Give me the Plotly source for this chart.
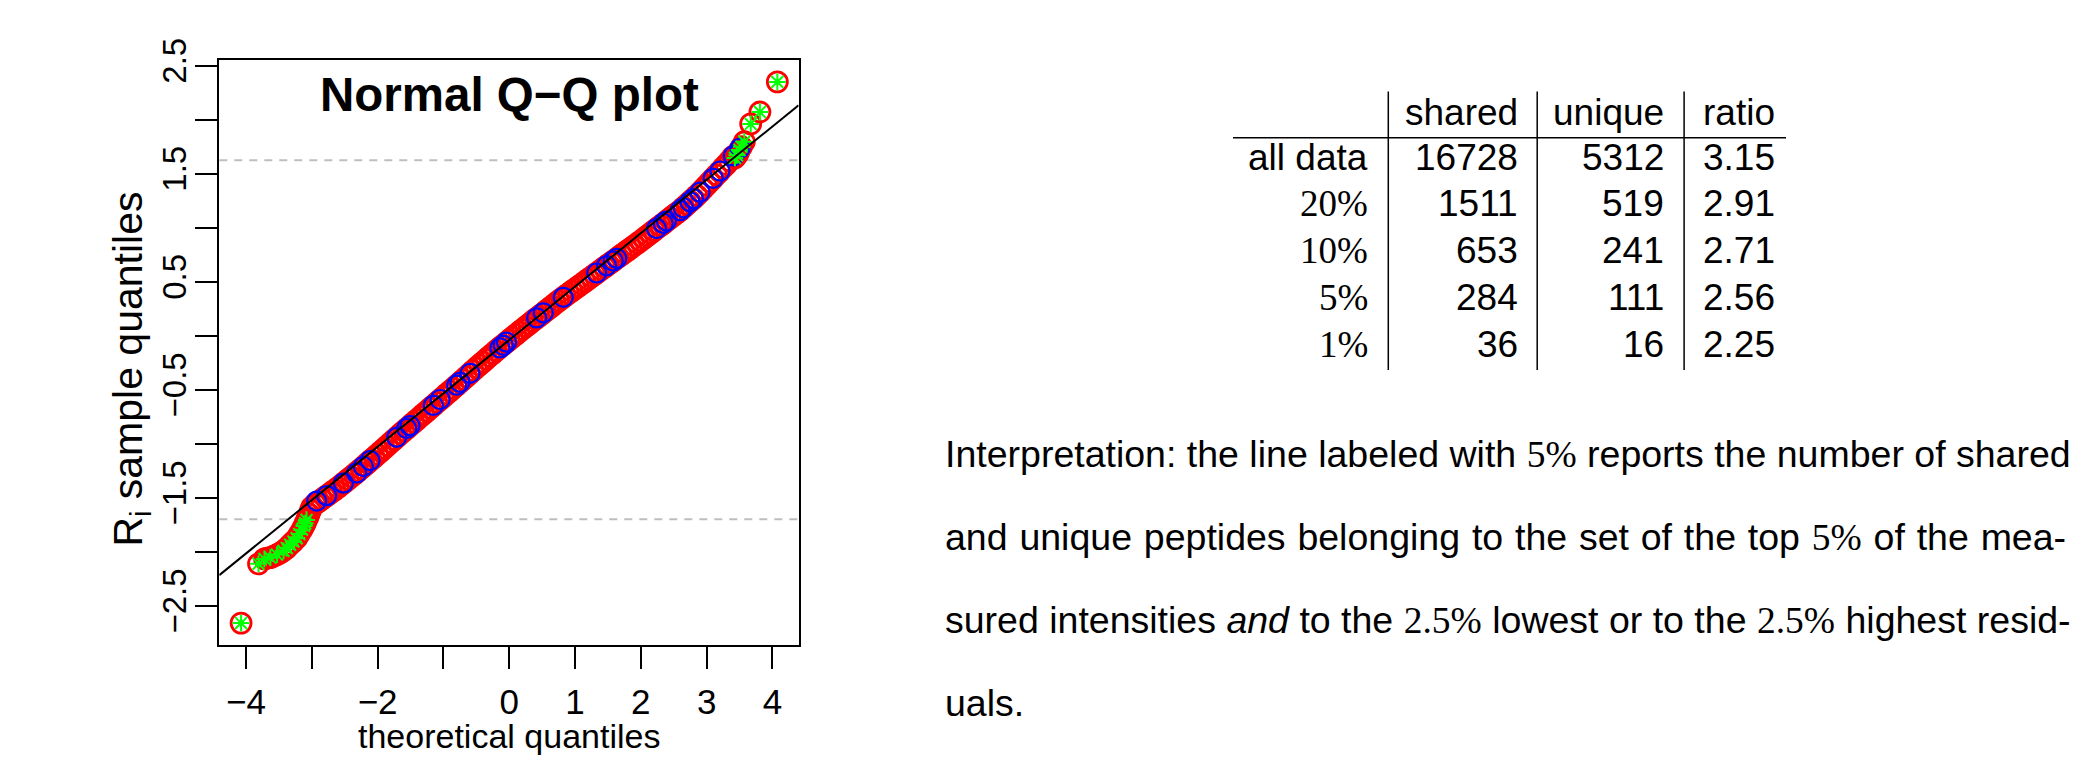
import plotly.graph_objects as go

# ---------------- data ----------------
# Q-Q plot: theoretical quantiles vs. sample quantiles of R_i (red = shared, sampled along the curve)
red_theoretical = [-4.075, -3.81, -3.72, -3.68, -3.63, -3.58, -3.53, -3.48, -3.43, -3.38, -3.33, -3.28,
                   -3.23, -3.19, -3.15, -3.12, -3.10, -3.08, -3.06, -3.04, -3.02, -3.00,
                   -2.95, -2.90, -2.85, -2.80, -2.75, -2.70, -2.65, -2.60, -2.55, -2.50,
                   -2.45, -2.40, -2.35, -2.30, -2.25, -2.20, -2.15, -2.10, -2.05, -2.00,
                   -1.95, -1.90, -1.85, -1.80, -1.75, -1.70, -1.65, -1.60, -1.55, -1.50,
                   -1.45, -1.40, -1.35, -1.30, -1.25, -1.20, -1.15, -1.10, -1.05, -1.00,
                   -0.95, -0.90, -0.85, -0.80, -0.75, -0.70, -0.65, -0.60, -0.55, -0.50,
                   -0.45, -0.40, -0.35, -0.30, -0.25, -0.20, -0.15, -0.10, -0.05, 0.00,
                   0.05, 0.10, 0.15, 0.20, 0.25, 0.30, 0.35, 0.40, 0.45, 0.50,
                   0.55, 0.60, 0.65, 0.70, 0.75, 0.80, 0.85, 0.90, 0.95, 1.00,
                   1.05, 1.10, 1.15, 1.20, 1.25, 1.30, 1.35, 1.40, 1.45, 1.50,
                   1.55, 1.60, 1.65, 1.70, 1.75, 1.80, 1.85, 1.90, 1.95, 2.00,
                   2.05, 2.10, 2.15, 2.20, 2.25, 2.30, 2.35, 2.40, 2.45, 2.50,
                   2.55, 2.60, 2.65, 2.70, 2.75, 2.80, 2.85, 2.90, 2.95, 3.00,
                   3.05, 3.10, 3.15, 3.20, 3.25, 3.30, 3.35, 3.40,
                   3.43, 3.46, 3.48, 3.50, 3.53, 3.573, 3.67, 3.81, 4.075]
red_sample = [-2.659, -2.111, -2.065, -2.058, -2.054, -2.040, -2.025, -2.009, -1.990, -1.965, -1.934, -1.905,
              -1.874, -1.835, -1.795, -1.760, -1.735, -1.705, -1.680, -1.650, -1.615, -1.585,
              -1.556, -1.537, -1.515, -1.492, -1.470, -1.448, -1.426, -1.403, -1.379, -1.354,
              -1.329, -1.305, -1.280, -1.255, -1.229, -1.203, -1.176, -1.149, -1.124, -1.097,
              -1.070, -1.043, -1.016, -0.988, -0.961, -0.934, -0.907, -0.881, -0.855, -0.828,
              -0.802, -0.776, -0.749, -0.723, -0.697, -0.670, -0.644, -0.617, -0.591, -0.565,
              -0.538, -0.512, -0.486, -0.459, -0.432, -0.405, -0.378, -0.350, -0.323, -0.296,
              -0.269, -0.244, -0.217, -0.190, -0.165, -0.138, -0.113, -0.088, -0.064, -0.039,
              -0.014, 0.010, 0.035, 0.060, 0.084, 0.107, 0.132, 0.156, 0.179, 0.203,
              0.227, 0.250, 0.274, 0.299, 0.323, 0.346, 0.368, 0.391, 0.413, 0.435,
              0.457, 0.479, 0.501, 0.524, 0.546, 0.568, 0.590, 0.613, 0.635, 0.657,
              0.679, 0.701, 0.724, 0.746, 0.768, 0.790, 0.812, 0.835, 0.857, 0.879,
              0.903, 0.926, 0.949, 0.973, 0.997, 1.020, 1.043, 1.067, 1.090, 1.114,
              1.137, 1.160, 1.188, 1.215, 1.243, 1.269, 1.299, 1.329, 1.361, 1.393,
              1.426, 1.457, 1.490, 1.522, 1.555, 1.586, 1.621, 1.661,
              1.646, 1.670, 1.690, 1.720, 1.750, 1.796, 1.961, 2.071, 2.350]

# blue = unique peptides (visible rings)
blue_theoretical = [-2.926, -2.774, -2.52, -2.318, -2.217, -2.115, -1.71, -1.558, -1.508, -1.153, -1.05,
                    -0.798, -0.748, -0.596, -0.14, -0.09, -0.04, 0.418, 0.518, 0.822, 1.33, 1.48,
                    1.58, 1.634, 2.24, 2.34, 2.39, 2.596, 2.646, 2.748, 2.80, 2.90, 3.10, 3.204,
                    3.406, 3.508]
blue_sample = [-1.53, -1.48, -1.364, -1.27, -1.21, -1.155, -0.94, -0.858, -0.832, -0.645, -0.59,
               -0.458, -0.431, -0.348, -0.113, -0.088, -0.059, 0.165, 0.212, 0.356, 0.581, 0.648,
               0.692, 0.716, 0.992, 1.04, 1.062, 1.158, 1.185, 1.240, 1.269, 1.329, 1.457, 1.525,
               1.665, 1.735]

# green stars = top 5% intensities beyond the residual thresholds
green_theoretical = [-4.075, -3.81, -3.72, -3.63, -3.53, -3.43, -3.38, -3.33, -3.28, -3.23, -3.19,
                     -3.15, -3.12, -3.10, -3.08, 3.43, 3.46, 3.50, 3.53, 3.573, 3.67, 3.81, 4.075]
green_sample = [-2.659, -2.111, -2.065, -2.054, -2.025, -1.990, -1.965, -1.934, -1.905, -1.874, -1.835,
                -1.795, -1.760, -1.735, -1.705, 1.646, 1.670, 1.720, 1.750, 1.796, 1.961, 2.071, 2.350]

qq_intercept = -0.039
qq_slope = 0.494
resid_low = -1.697
resid_high = 1.625

x_range = [-4.406, 4.398]
y_range = [-2.858, 2.551]
x_tick_vals = [-4, -2, 0, 1, 2, 3, 4]
x_tick_text = ["\u22124", "\u22122", "0", "1", "2", "3", "4"]
x_minor_vals = [-3, -1]
y_tick_vals = [-2.5, -1.5, -0.5, 0.5, 1.5, 2.5]
y_tick_text = ["\u22122.5", "\u22121.5", "\u22120.5", "0.5", "1.5", "2.5"]
y_minor_vals = [-2.0, -1.0, 0.0, 1.0, 2.0]

# table
table_rows = ["all data", "20%", "10%", "5%", "1%"]
table_cols = ["shared", "unique", "ratio"]
shared_counts = [16728, 1511, 653, 284, 36]
unique_counts = [5312, 519, 241, 111, 16]
ratios = [3.15, 2.91, 2.71, 2.56, 2.25]

# ---------------- figure ----------------
W, H = 2077, 757
SANS = "Liberation Sans, Arial, Helvetica, sans-serif"
SERIF = "Liberation Serif, Times New Roman, serif"


def px(xp):
    return xp / W


def py(yp):
    return 1 - yp / H


fig = go.Figure()

fig.add_trace(go.Scatter(
    x=red_theoretical, y=red_sample, mode="markers", name="shared",
    marker=dict(symbol="circle-open", size=20, color="#FF0000", line=dict(width=2.8)),
    showlegend=False, hoverinfo="x+y"))
fig.add_trace(go.Scatter(
    x=blue_theoretical, y=blue_sample, mode="markers", name="unique",
    marker=dict(symbol="circle-open", size=19, color="#0000FF", line=dict(width=2.2)),
    showlegend=False, hoverinfo="x+y"))
fig.add_trace(go.Scatter(
    x=green_theoretical, y=green_sample, mode="markers", name="top 5%",
    marker=dict(symbol="asterisk-open", size=14, color="#00FF00", line=dict(width=2, color="#00FF00")),
    showlegend=False, hoverinfo="x+y"))

# reference (qq) line across the full x range
fig.add_shape(type="line", xref="x", yref="y",
              x0=x_range[0], x1=x_range[1],
              y0=qq_intercept + qq_slope * x_range[0], y1=qq_intercept + qq_slope * x_range[1],
              line=dict(color="black", width=2), layer="above")
# residual thresholds
for yv in (resid_low, resid_high):
    fig.add_shape(type="line", xref="x domain", yref="y", x0=0, x1=1, y0=yv, y1=yv,
                  line=dict(color="#BEBEBE", width=2, dash="8px,7px"), layer="below")

tick_style = dict(ticks="outside", ticklen=22, tickwidth=2, tickcolor="black")
fig.update_xaxes(
    range=x_range, domain=[px(219.3), px(798.6)],
    tickmode="array", tickvals=x_tick_vals, ticktext=x_tick_text,
    minor=dict(tickmode="array", tickvals=x_minor_vals, showgrid=False, **tick_style),
    showline=True, linewidth=2, linecolor="black", mirror=True,
    showgrid=False, zeroline=False,
    tickfont=dict(family=SANS, size=35, color="black"), ticklabelstandoff=3, **tick_style)
fig.update_yaxes(
    range=y_range, domain=[py(641.2), py(39.3)],
    tickmode="array", tickvals=y_tick_vals, ticktext=y_tick_text, tickangle=-90,
    minor=dict(tickmode="array", tickvals=y_minor_vals, showgrid=False, **tick_style),
    showline=True, linewidth=2, linecolor="black", mirror=True,
    showgrid=False, zeroline=False,
    tickfont=dict(family=SANS, size=33, color="black"), ticklabelstandoff=-4, **tick_style)

ann = []
# plot title and axis titles
ann.append(dict(text="<b>Normal Q\u2212Q plot</b>", x=px(509), y=py(75), xref="paper", yref="paper",
                xanchor="center", yanchor="middle", showarrow=False,
                font=dict(family=SANS, size=47.5, color="black")))
ann.append(dict(text="theoretical quantiles", x=px(509), y=0, xref="paper", yref="paper",
                xanchor="center", yanchor="bottom", showarrow=False,
                font=dict(family=SANS, size=34, color="black")))
ann.append(dict(text="R<sub>i</sub> sample quantiles", x=px(131), y=py(358), xref="paper", yref="paper",
                xanchor="center", yanchor="middle", showarrow=False, textangle=-90,
                font=dict(family=SANS, size=41, color="black")))

# table
TFS = 37
header_y = 93.3
row_y = [139.3, 186.7, 235.0, 283.3, 331.7]
col_right = {"shared": 1519.6, "unique": 1666.1}
ratio_left = 1700.5
label_right = 1370.3
for c in table_cols:
    if c == "ratio":
        ann.append(dict(text=c, x=px(ratio_left), y=py(header_y), xref="paper", yref="paper",
                        xanchor="left", yanchor="middle", showarrow=False,
                        font=dict(family=SANS, size=TFS, color="black")))
    else:
        ann.append(dict(text=c, x=px(col_right[c]), y=py(header_y), xref="paper", yref="paper",
                        xanchor="right", yanchor="middle", showarrow=False,
                        font=dict(family=SANS, size=TFS, color="black")))
for i, lab in enumerate(table_rows):
    fam = SERIF if "%" in lab else SANS
    ann.append(dict(text=lab, x=px(label_right), y=py(row_y[i]), xref="paper", yref="paper",
                    xanchor="right", yanchor="middle", showarrow=False,
                    font=dict(family=fam, size=TFS, color="black")))
    ann.append(dict(text=str(shared_counts[i]), x=px(col_right["shared"]), y=py(row_y[i]),
                    xref="paper", yref="paper", xanchor="right", yanchor="middle", showarrow=False,
                    font=dict(family=SANS, size=TFS, color="black")))
    ann.append(dict(text=str(unique_counts[i]), x=px(col_right["unique"]), y=py(row_y[i]),
                    xref="paper", yref="paper", xanchor="right", yanchor="middle", showarrow=False,
                    font=dict(family=SANS, size=TFS, color="black")))
    ann.append(dict(text=f"{ratios[i]:.2f}", x=px(ratio_left), y=py(row_y[i]),
                    xref="paper", yref="paper", xanchor="left", yanchor="middle", showarrow=False,
                    font=dict(family=SANS, size=TFS, color="black")))

for xv in (1388.3, 1537.2, 1684.1):
    fig.add_shape(type="line", xref="paper", yref="paper", x0=px(xv), x1=px(xv),
                  y0=py(71.7), y1=py(358.3), line=dict(color="black", width=1.5))
fig.add_shape(type="line", xref="paper", yref="paper", x0=px(1233), x1=px(1786),
              y0=py(119.3), y1=py(119.3), line=dict(color="black", width=1.5))

# interpretation paragraph (lines of a justified paragraph)
pct = "<span style='font-family:Liberation Serif, Times New Roman, serif'>{}</span>"
ws = "<span style='word-spacing:1.4px'>{}</span>"
para_lines = [
    "Interpretation: the line labeled with " + pct.format("5%") + " reports the number of shared",
    ws.format("and unique peptides belonging to the set of the top ") + pct.format("5%")
    + ws.format(" of the mea-"),
    "sured intensities <i>and</i> to the " + pct.format("2.5%") + " lowest or to the "
    + pct.format("2.5%") + " highest resid-",
    "uals.",
]
para_y = [445.0, 530.5, 616.0, 701.5]
for t, yv in zip(para_lines, para_y):
    ann.append(dict(text=t, x=px(943), y=py(yv), xref="paper", yref="paper",
                    xanchor="left", yanchor="middle", showarrow=False,
                    font=dict(family=SANS, size=37.5, color="black")))

fig.update_layout(
    width=W, height=H, autosize=False,
    margin=dict(l=0, r=0, t=0, b=0, pad=0),
    paper_bgcolor="white", plot_bgcolor="white",
    annotations=ann, showlegend=False,
)

fig.write_html(
    "out.html",
    config={"displayModeBar": False, "responsive": False},
    post_script=(
        "var gd=document.getElementById('{plot_id}');"
        "gd.style.position='absolute';gd.style.top='0px';gd.style.left='0px';"
        "document.documentElement.style.margin='0';document.body.style.margin='0';"
        "document.documentElement.style.overflow='hidden';document.body.style.overflow='hidden';"
    ),
)
